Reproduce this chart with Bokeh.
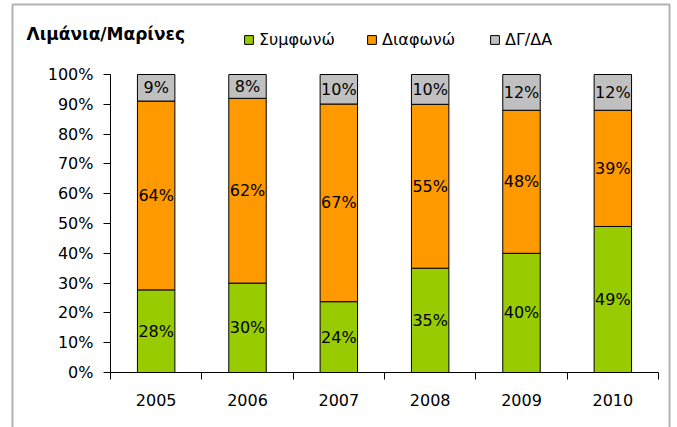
from bokeh.plotting import figure
from bokeh.models import (ColumnDataSource, FixedTicker, Legend, LegendItem, Label,
                          NumeralTickFormatter, Range1d, BoxAnnotation)
from bokeh.embed import file_html
from bokeh.resources import INLINE
from bokeh.core.properties import value

# ---- data ----
years = ["2005", "2006", "2007", "2008", "2009", "2010"]
agree = [28, 30, 24, 35, 40, 49]        # Συμφωνώ
disagree = [64, 62, 67, 55, 48, 39]     # Διαφωνώ
dkna = [9, 8, 10, 10, 12, 12]           # ΔΓ/ΔΑ
series_names = ["Συμφωνώ", "Διαφωνώ", "ΔΓ/ΔΑ"]
series_colors = ["#99CC00", "#FF9900", "#C0C0C0"]
title_text = "Λιμάνια/Μαρίνες"
y_ticks = [i / 10 for i in range(11)]

# ---- 100% stacked normalisation ----
xs = [i + 0.5 for i in range(len(years))]
totals = [a + b + c for a, b, c in zip(agree, disagree, dkna)]
s1 = [a / t for a, t in zip(agree, totals)]
s2 = [b / t for b, t in zip(disagree, totals)]
s3 = [c / t for c, t in zip(dkna, totals)]
src = ColumnDataSource(dict(x=xs, s1=s1, s2=s2, s3=s3))

FONT = "DejaVu Sans"

# ---- layout: frame fills the canvas, axes drawn at fixed locations ----
W, H = 677, 427
PX_L, PX_R, PX_T, PX_B = 110, 658, 74, 372   # pixel position of the plot area
n = len(years)
xs_per_px = n / (PX_R - PX_L)
ys_per_px = 1.0 / (PX_B - PX_T)
x_range = Range1d(-PX_L * xs_per_px, n + (W - PX_R) * xs_per_px)
y_range = Range1d(-(H - PX_B) * ys_per_px, 1 + PX_T * ys_per_px)

p = figure(width=W, height=H, x_range=x_range, y_range=y_range,
           output_backend="svg", toolbar_location=None,
           min_border_left=0, min_border_right=0, min_border_top=0, min_border_bottom=0)
p.outline_line_color = None
p.xgrid.visible = False
p.ygrid.visible = False

# outer chart border
p.add_layout(BoxAnnotation(left=12, right=669, top=H - 4, bottom=-30,
                           left_units="screen", right_units="screen",
                           top_units="screen", bottom_units="screen",
                           fill_alpha=0, line_color="black", line_width=2))

rs = p.vbar_stack(["s1", "s2", "s3"], x="x", width=0.41, color=series_colors,
                  line_color="black", line_width=1, source=src)

# data labels
lx, ly, lt = [], [], []
for i in range(n):
    base = 0
    for vals, raw in ((s1, agree), (s2, disagree), (s3, dkna)):
        lx.append(xs[i])
        ly.append(base + vals[i] / 2)
        lt.append(f"{raw[i]}%")
        base += vals[i]
p.text(x=lx, y=ly, text=lt, text_font=value(FONT), text_font_size="16px",
       text_align="center", text_baseline="middle", text_color="black")

# y axis
p.yaxis.fixed_location = 0
p.yaxis.bounds = (0, 1)
p.yaxis.ticker = FixedTicker(ticks=y_ticks)
p.yaxis.formatter = NumeralTickFormatter(format="0%")
p.yaxis.minor_tick_line_color = None
p.yaxis.major_tick_in = 0
p.yaxis.major_tick_out = 7
p.yaxis.major_label_standoff = 10
p.yaxis.major_label_text_font = FONT
p.yaxis.major_label_text_font_size = "16px"
p.yaxis.major_label_text_color = "black"
p.yaxis.axis_line_color = "black"
p.yaxis.major_tick_line_color = "black"

# x axis: tick marks between categories, labels at centres
p.xaxis.fixed_location = 0
p.xaxis.bounds = (0, n)
p.xaxis.ticker = FixedTicker(ticks=xs, minor_ticks=list(range(n + 1)))
p.xaxis.major_label_overrides = {x: y for x, y in zip(xs, years)}
p.xaxis.major_tick_in = 0
p.xaxis.major_tick_out = 0
p.xaxis.minor_tick_in = 0
p.xaxis.minor_tick_out = 7
p.xaxis.minor_tick_line_color = "black"
p.xaxis.major_label_standoff = 14
p.xaxis.major_label_text_font = FONT
p.xaxis.major_label_text_font_size = "16px"
p.xaxis.major_label_text_color = "black"
p.xaxis.axis_line_color = "black"

legend = Legend(items=[LegendItem(label=nm, renderers=[r]) for nm, r in zip(series_names, rs)],
                orientation="horizontal", location=(243, H - 49),
                border_line_alpha=0, background_fill_alpha=0, padding=0, margin=0,
                spacing=11, glyph_width=11, glyph_height=11, label_standoff=5,
                label_width=96,
                label_text_font=FONT, label_text_font_size="16px", label_text_color="black")
p.add_layout(legend, "center")

p.add_layout(Label(x=26, y=H - 33, x_units="screen", y_units="screen", text=title_text,
                   text_font=FONT, text_font_style="bold", text_font_size="17px",
                   text_baseline="alphabetic", text_color="black"))

open("out.html", "w").write(file_html(p, INLINE))
